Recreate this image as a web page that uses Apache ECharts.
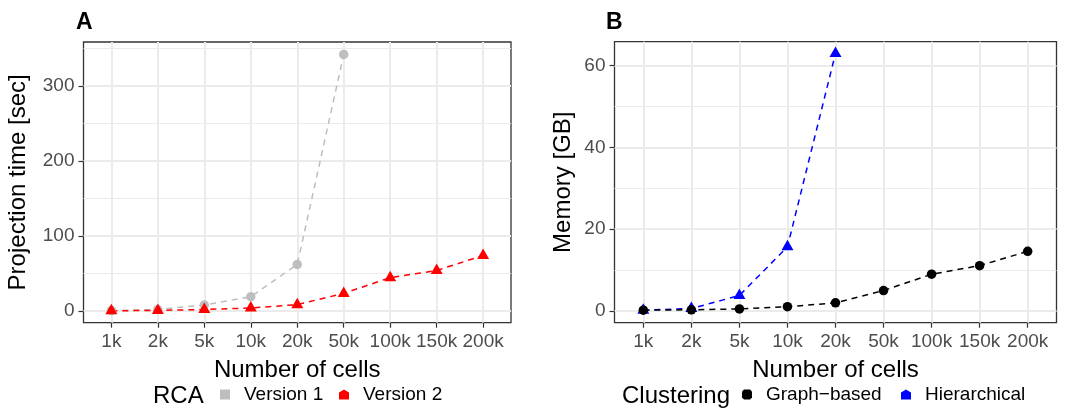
<!DOCTYPE html>
<html>
<head>
<meta charset="utf-8">
<title>RCA projection time and memory</title>
<script src="https://cdn.jsdelivr.net/npm/echarts@6/dist/echarts.min.js"></script>
<style>
  html, body { margin: 0; padding: 0; background: #fff; }
  #main { width: 1066px; height: 410px; }
</style>
</head>
<body>
<div id="main"></div>
<script>
// x categories (number of cells)
var cells = ['1k', '2k', '5k', '10k', '20k', '50k', '100k', '150k', '200k'];
var cellIdx = [0, 1, 2, 3, 4, 5, 6, 7, 8];

// panel A: projection time [sec]
var rcaV1 = [0.5, 2, 8, 19, 62, 342];
var rcaV2 = [0.3, 0.8, 2, 4, 8.5, 23.5, 44.5, 54, 74];
var timeTicks = [0, 100, 200, 300];

// panel B: memory [GB]
var graphMem = [0.2, 0.3, 0.5, 1.05, 2.0, 5.0, 9.0, 11.1, 14.6];
var hierMem = [0.2, 0.6, 3.8, 15.7, 63];
var memTicks = [0, 20, 40, 60];

var FONT = 'Liberation Sans';
var gridLine = '#EBEBEB';

function pairs(arr) {
    var out = [];
    for (var i = 0; i < arr.length; i++) {
        out.push([i, arr[i]]);
    }
    return out;
}

function makeX(gi) {
    return {
        type: 'value',
        gridIndex: gi,
        min: -0.6,
        max: 8.6,
        splitNumber: 9,
        minInterval: 1,
        maxInterval: 1,
        name: 'Number of cells',
        nameLocation: 'middle',
        nameGap: 36,
        nameTextStyle: { fontFamily: FONT, fontSize: 24, color: '#000' },
        axisLine: { show: false, onZero: false },
        axisTick: { show: true, length: 5, customValues: cellIdx, lineStyle: { color: '#333', width: 1.2 } },
        axisLabel: {
            customValues: cellIdx,
            margin: 10,
            fontFamily: FONT, fontSize: 19, color: '#4D4D4D',
            formatter: function (v) { return cells[Math.round(v)]; }
        },
        splitLine: { show: true, lineStyle: { color: gridLine, width: 2 } }
    };
}

function makeY(gi, min, max, step, ticks, name, gap) {
    return {
        type: 'value',
        gridIndex: gi,
        min: min,
        max: max,
        splitNumber: 4,
        minInterval: step,
        maxInterval: step,
        name: name,
        nameLocation: 'middle',
        nameGap: gap,
        nameTextStyle: { fontFamily: FONT, fontSize: 24, color: '#000' },
        axisLine: { show: false, onZero: false },
        axisTick: { show: true, length: 5, customValues: ticks, lineStyle: { color: '#333', width: 1.2 } },
        axisLabel: {
            customValues: ticks,
            margin: 9,
            fontFamily: FONT, fontSize: 19, color: '#4D4D4D'
        },
        splitLine: { show: true, lineStyle: { color: gridLine, width: 2 } },
        minorTick: { show: false, splitNumber: 2 },
        minorSplitLine: { show: true, lineStyle: { color: gridLine, width: 1 } }
    };
}

function lineSeries(name, gi, data, color, symbol) {
    var tri = symbol === 'triangle';
    return {
        name: name,
        type: 'line',
        xAxisIndex: gi,
        yAxisIndex: gi,
        data: pairs(data),
        symbol: symbol,
        symbolSize: tri ? [12, 10.5] : 9.5,
        symbolOffset: tri ? [0, -1.7] : [0, 0],
        showSymbol: true,
        itemStyle: { color: color },
        lineStyle: { color: color, width: 1.5, type: [6, 5] }
    };
}

function legendItem(name, left, icon) {
    return {
        data: [name],
        left: left,
        top: 385,
        padding: 0,
        itemWidth: 28,
        itemHeight: 10,
        icon: icon,
        selectedMode: false,
        textStyle: { fontFamily: FONT, fontSize: 19, color: '#000' }
    };
}

var squareIcon = 'path://M0,0H10V10H0Z';
var houseIcon = 'path://M0,3L5,0L10,3V10H0Z';
var roundIcon = 'path://M2,0H8L10,2V8L8,10H2L0,8V2Z';

var myChart = echarts.init(document.getElementById('main'), null, { renderer: 'canvas' });

var option = {
    animation: false,
    backgroundColor: '#fff',
    title: [
        { text: 'A', left: 76, top: 11, padding: 0, textStyle: { fontFamily: FONT, fontSize: 23, fontWeight: 'bold', color: '#000' } },
        { text: 'B', left: 606, top: 11, padding: 0, textStyle: { fontFamily: FONT, fontSize: 23, fontWeight: 'bold', color: '#000' } },
        { text: 'RCA', left: 153, top: 384, padding: 0, textStyle: { fontFamily: FONT, fontSize: 24, fontWeight: 'normal', color: '#000' } },
        { text: 'Clustering', left: 622, top: 384, padding: 0, textStyle: { fontFamily: FONT, fontSize: 24, fontWeight: 'normal', color: '#000' } }
    ],
    legend: [
        legendItem('Version 1', 220, squareIcon),
        legendItem('Version 2', 339, houseIcon),
        legendItem('Graph\u2212based', 742, roundIcon),
        legendItem('Hierarchical', 901, houseIcon)
    ],
    grid: [
        { left: 83.5, top: 42, width: 427.5, height: 280.7, show: true, borderColor: '#333', borderWidth: 1.3, backgroundColor: 'transparent' },
        { left: 614.5, top: 41.7, width: 442, height: 281, show: true, borderColor: '#333', borderWidth: 1.3, backgroundColor: 'transparent' }
    ],
    xAxis: [makeX(0), makeX(1)],
    yAxis: [
        makeY(0, -15.6, 358.6, 100, timeTicks, 'Projection time [sec]', 53),
        makeY(1, -2.86, 65.87, 20, memTicks, 'Memory [GB]', 39)
    ],
    series: [
        lineSeries('Version 1', 0, rcaV1, '#BEBEBE', 'circle'),
        lineSeries('Version 2', 0, rcaV2, '#FF0000', 'triangle'),
        lineSeries('Hierarchical', 1, hierMem, '#0000FF', 'triangle'),
        lineSeries('Graph\u2212based', 1, graphMem, '#000000', 'circle')
    ]
};

myChart.setOption(option);
</script>
</body>
</html>
